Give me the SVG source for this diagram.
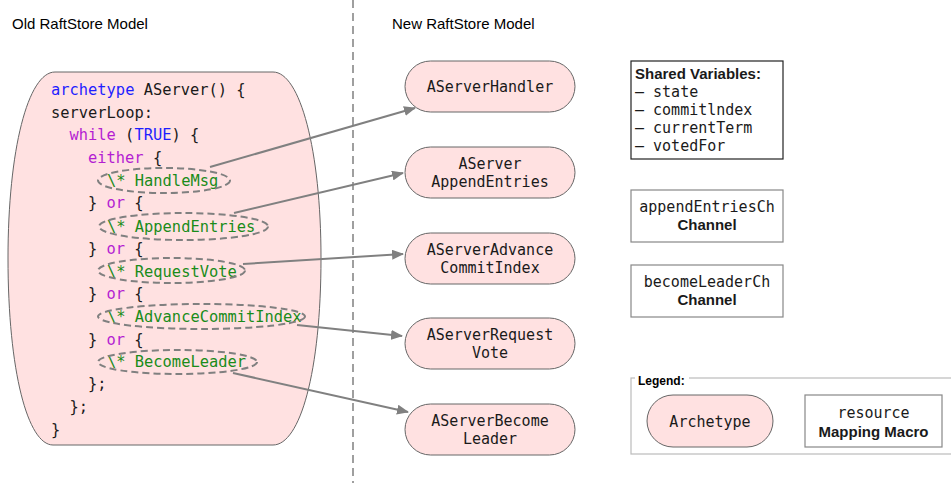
<svg xmlns="http://www.w3.org/2000/svg" width="951" height="483" viewBox="0 0 951 483">
  <style>
    .title { font-family: "Liberation Sans", Arial, sans-serif; font-size: 15px; fill: #000; }
    .code { font-family: "DejaVu Sans Mono", monospace; font-size: 15.4px; fill: #1a1a1a; }
    .kw { fill: #b41ed2; }
    .bl { fill: #1e1eff; }
    .cm { fill: #1a8c1a; }
    .mono { font-family: "DejaVu Sans Mono", monospace; font-size: 15px; fill: #1a1a1a; }
    .bold { font-family: "Liberation Sans", Arial, sans-serif; font-size: 15px; font-weight: bold; fill: #1a1a1a; }
    .arch { fill: #ffe1e1; stroke: #666; stroke-width: 1; }
    .mark { fill: none; stroke: #808080; stroke-width: 2; stroke-dasharray: 7 4; }
    .edge { fill: none; stroke: #808080; stroke-width: 2; }
    .res { fill: #fff; stroke: #888; stroke-width: 1.2; }
  </style>
  <defs>
    <marker id="arrow" viewBox="0 0 12 10" refX="11" refY="5" markerWidth="12" markerHeight="10" markerUnits="userSpaceOnUse" orient="auto">
      <path d="M0,0 L12,5 L0,10 Z" fill="#808080"/>
    </marker>
  </defs>
  <rect width="951" height="483" fill="#fff"/>

  <!-- section titles and divider -->
  <text class="title" x="12" y="29">Old RaftStore Model</text>
  <text class="title" x="392" y="29">New RaftStore Model</text>
  <line x1="353" y1="0" x2="353" y2="483" stroke="#808080" stroke-width="1.5" stroke-dasharray="8 5"/>

  <!-- original monolithic archetype -->
  <g id="aserver-old">
    <path class="arch" d="M55,72 H273 C300,72 321,150 321,258 C321,372 300,445 273,445 H53 C28,445 8,372 8,258 C8,150 28,72 55,72 Z"/>
    <text class="code" x="51" y="95"><tspan class="bl">archetype</tspan> AServer() {</text>
    <text class="code" x="51" y="118">serverLoop:</text>
    <text class="code" x="69.5" y="140"><tspan class="kw">while</tspan> (<tspan class="bl">TRUE</tspan>) {</text>
    <text class="code" x="88" y="163"><tspan class="kw">either</tspan> {</text>
    <text class="code cm" x="107" y="186">\* HandleMsg</text>
    <text class="code" x="88" y="208">} <tspan class="kw">or</tspan> {</text>
    <text class="code cm" x="107" y="232">\* AppendEntries</text>
    <text class="code" x="88" y="254">} <tspan class="kw">or</tspan> {</text>
    <text class="code cm" x="107" y="277">\* RequestVote</text>
    <text class="code" x="88" y="299">} <tspan class="kw">or</tspan> {</text>
    <text class="code cm" x="107" y="322">\* AdvanceCommitIndex</text>
    <text class="code" x="88" y="345">} <tspan class="kw">or</tspan> {</text>
    <text class="code cm" x="107" y="367">\* BecomeLeader</text>
    <text class="code" x="88" y="389">};</text>
    <text class="code" x="69.5" y="412">};</text>
    <text class="code" x="51" y="435">}</text>
    <!-- highlighted action blocks -->
    <ellipse class="mark" cx="164" cy="180.5" rx="66" ry="12.5"/>
    <ellipse class="mark" cx="183.5" cy="226.5" rx="84.5" ry="13.5"/>
    <ellipse class="mark" cx="171.5" cy="270.5" rx="73.5" ry="12.5"/>
    <ellipse class="mark" cx="201.5" cy="316.5" rx="103.5" ry="12.5"/>
    <ellipse class="mark" cx="177.5" cy="362" rx="79.5" ry="12"/>
  </g>

  <!-- split archetypes -->
  <g id="aserver-handler">
    <rect class="arch" x="405" y="61" width="170" height="51" rx="25.5"/>
    <text class="mono" x="490" y="91.5" text-anchor="middle">AServerHandler</text>
  </g>
  <g id="aserver-appendentries">
    <rect class="arch" x="405" y="147" width="170" height="51" rx="25.5"/>
    <text class="mono" x="490" y="169" text-anchor="middle">AServer</text>
    <text class="mono" x="490" y="187" text-anchor="middle">AppendEntries</text>
  </g>
  <g id="aserver-advancecommitindex">
    <rect class="arch" x="405" y="233" width="170" height="51" rx="25.5"/>
    <text class="mono" x="490" y="255" text-anchor="middle">AServerAdvance</text>
    <text class="mono" x="490" y="273" text-anchor="middle">CommitIndex</text>
  </g>
  <g id="aserver-requestvote">
    <rect class="arch" x="405" y="318" width="170" height="51" rx="25.5"/>
    <text class="mono" x="490" y="340" text-anchor="middle">AServerRequest</text>
    <text class="mono" x="490" y="358" text-anchor="middle">Vote</text>
  </g>
  <g id="aserver-becomeleader">
    <rect class="arch" x="405" y="404" width="170" height="51" rx="25.5"/>
    <text class="mono" x="490" y="426" text-anchor="middle">AServerBecome</text>
    <text class="mono" x="490" y="444" text-anchor="middle">Leader</text>
  </g>

  <!-- shared state and channels -->
  <g id="shared-variables">
    <rect x="631" y="61" width="152" height="98" fill="#fff" stroke="#222" stroke-width="1.2"/>
    <text class="bold" x="635" y="79">Shared Variables:</text>
    <text class="mono" x="635" y="97" xml:space="preserve">– state</text>
    <text class="mono" x="635" y="115" xml:space="preserve">– commitlndex</text>
    <text class="mono" x="635" y="133" xml:space="preserve">– currentTerm</text>
    <text class="mono" x="635" y="151" xml:space="preserve">– votedFor</text>
  </g>
  <g id="appendentries-ch">
    <rect class="res" x="631" y="190" width="152" height="52"/>
    <text class="mono" x="707" y="212" text-anchor="middle">appendEntriesCh</text>
    <text class="bold" x="707" y="230" text-anchor="middle">Channel</text>
  </g>
  <g id="becomeleader-ch">
    <rect class="res" x="631" y="265" width="152" height="52"/>
    <text class="mono" x="707" y="287" text-anchor="middle">becomeLeaderCh</text>
    <text class="bold" x="707" y="305" text-anchor="middle">Channel</text>
  </g>

  <!-- legend -->
  <g id="legend">
    <rect x="631" y="378" width="325" height="76" fill="#fff" stroke="#bbb" stroke-width="1.2"/>
    <rect x="635" y="373" width="54" height="12" fill="#fff"/>
    <text x="638" y="385" font-family="Liberation Sans, Arial, sans-serif" font-size="12" font-weight="bold" fill="#000">Legend:</text>
    <g id="legend-archetype">
      <rect class="arch" x="647" y="395" width="126" height="52" rx="26"/>
      <text class="mono" x="710" y="427" text-anchor="middle">Archetype</text>
    </g>
    <g id="legend-resource">
      <rect class="res" x="805" y="395" width="137" height="52"/>
      <text class="mono" x="873.5" y="418" text-anchor="middle">resource</text>
      <text class="bold" x="873.5" y="437" text-anchor="middle">Mapping Macro</text>
    </g>
  </g>

  <!-- mapping connectors -->
  <g id="connectors">
    <line class="edge" x1="210" y1="167" x2="415" y2="108" marker-end="url(#arrow)"/>
    <line class="edge" x1="234" y1="213" x2="403" y2="173" marker-end="url(#arrow)"/>
    <line class="edge" x1="243" y1="264" x2="403" y2="254" marker-end="url(#arrow)"/>
    <line class="edge" x1="297" y1="325" x2="402" y2="336" marker-end="url(#arrow)"/>
    <line class="edge" x1="233" y1="373" x2="408" y2="412" marker-end="url(#arrow)"/>
  </g>
</svg>
